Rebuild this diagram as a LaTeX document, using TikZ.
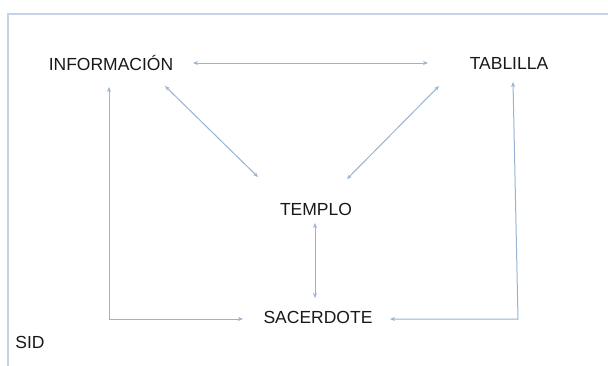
\documentclass[tikz,border=0pt]{standalone}
\usepackage{fontspec}
\setmainfont{Liberation Sans}
\usetikzlibrary{arrows.meta}
\definecolor{lnc}{RGB}{152,180,212}
\definecolor{frc}{RGB}{196,212,230}
\definecolor{txc}{RGB}{25,25,25}
\tikzset{
  lbl/.style={inner sep=0pt, text=txc, font=\fontsize{17.5}{20}\selectfont},
  conn/.style={draw=lnc, line width=1pt, {Stealth[length=5pt,width=4pt]}-{Stealth[length=5pt,width=4pt]}}
}
\begin{document}
\begin{tikzpicture}[x=1pt,y=-1pt]
\useasboundingbox (0,0) rectangle (608,365);
\clip (0,0) rectangle (608,365);
\fill[white] (0,0) rectangle (608,365);
\draw[frc, line width=1.3pt] (8,14) rectangle (660,420);
\node[lbl] (info) at (111,63) {INFORMACIÓN};
\node[lbl] (tab) at (509,63) {TABLILLA};
\node[lbl] (templo) at (316,209) {TEMPLO};
\node[lbl] (sac) at (318,317) {SACERDOTE};
\node[lbl] (sid) at (30,342) {SID};
\coordinate (rc) at (518,319);
\draw[conn] ([shift={(82,0)}]info.center) -- ([shift={(-81,0)}]tab.center);
\draw[conn] ([shift={(54,23)}]info.center) -- ([shift={(-58,-32)}]templo.center);
\draw[conn] ([shift={(-70,23)}]tab.center) -- ([shift={(31,-30)}]templo.center);
\draw[conn] ([shift={(-1,14)}]templo.center) -- ([shift={(-3,-19)}]sac.center);
\draw[conn] ([shift={(-2,24)}]info.center) |- ([shift={(-75,2)}]sac.center);
\draw[conn] ([shift={(72,2)}]sac.center) -- (rc) -- ([shift={(4,19)}]tab.center);
\end{tikzpicture}
\end{document}
